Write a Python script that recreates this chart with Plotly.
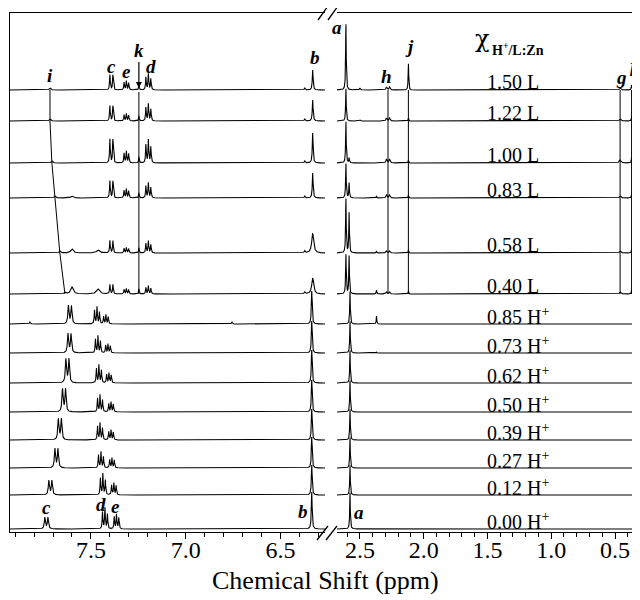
import numpy as np
import plotly.graph_objects as go

# ---------------- data ----------------
labels = ["1.50 L", "1.22 L", "1.00 L", "0.83 L", "0.58 L", "0.40 L",
          "0.85 H<sup>+</sup>", "0.73 H<sup>+</sup>", "0.62 H<sup>+</sup>", "0.50 H<sup>+</sup>",
          "0.39 H<sup>+</sup>", "0.27 H<sup>+</sup>", "0.12 H<sup>+</sup>", "0.00 H<sup>+</sup>"]
# vertical stacking offset of every trace (arbitrary intensity units)
stack_offset = [442, 411, 369, 334, 279, 238, 208, 179, 149, 120, 92, 64, 37, 3]

# aromatic signals (left panel)
c_ppm = [7.392] * 6 + [7.611, 7.613, 7.624, 7.642, 7.664, 7.682, 7.714, 7.735]
c_height = [16, 16, 25, 18, 13, 10, 19, 20, 25, 24, 22, 20, 15, 12]
c_hwhm = [0.0022] * 6 + [0.0035] * 8
d_ppm = [7.197] * 6 + [7.468, 7.463, 7.458, 7.452, 7.452, 7.447, 7.437, 7.426]
d_height = [16, 17, 23, 15, 12, 8, 17, 17, 18, 17, 17, 16, 21, 21]
e_ppm = [7.313] * 6 + [7.421, 7.410, 7.405, 7.394, 7.394, 7.389, 7.379, 7.365]
e_height = [10, 8, 13, 10, 6, 6, 10, 10, 11, 11, 11, 11, 13, 16]
k_ppm = 7.247
k_height = [5, 5, 6, 5, 5, 5, 0, 0, 0, 0, 0, 0, 0, 0]
b_ppm = [6.330] * 6 + [6.335] * 8
b_height = [20, 21, 30, 25, 20, 16, 33, 32, 33, 32, 31, 31, 30, 37]
b_hwhm = [0.0025, 0.0025, 0.0025, 0.0025, 0.006, 0.006] + [0.0025] * 8
b2_ppm = 6.372
b2_height = [2, 2, 2, 2, 2, 2, 0, 0, 0, 0, 0, 0, 0, 0]
i_ppm = [7.716, 7.716, 7.706, 7.690, 7.664, 7.637]
i_height = [2, 2, 2, 2, 2, 2]
bump1_ppm = 7.600
bump1_height = [0, 0, 0, 2, 4, 7, 0, 0, 0, 0, 0, 0, 0, 0]
bump2_ppm = 7.463
bump2_height = [0, 0, 0, 0, 3, 5, 0, 0, 0, 0, 0, 0, 0, 0]
minor_left_ppm = [7.822, 6.756]
minor_left_height = [2, 2]          # only in the 0.85 H+ trace

# aliphatic signals (right panel)
a_ppm = [2.610] * 6 + [2.578] * 8
a_height = [67, 33, 42, 35, 55, 40, 33, 32, 33, 32, 31, 31, 30, 37]
a2_ppm = 2.585
a2_height = [0, 0, 5, 15, 40, 38, 0, 0, 0, 0, 0, 0, 0, 0]
s237_ppm = 2.37
s237_height = [0, 0, 0, 2, 2, 4, 8, 1, 0, 0, 0, 0, 0, 0]
s250_ppm = 2.50
s250_height = [2, 1, 0, 0, 0, 0, 0, 0, 0, 0, 0, 0, 0, 0]
h_ppm, j_ppm, g_ppm, f_ppm = 2.28, 2.12, 0.46, 0.37
h_height = [3, 3, 4, 3, 2, 2]
j_height = [27, 3, 3, 3, 3, 3]
g_height = [2, 2, 3, 2, 2, 2]
f_height = [5, 4, 5, 4, 4, 4]

# ---------------- helpers ----------------
def lor(x, p, h, w):
    return h * w ** 2 / ((x - p) ** 2 + w ** 2)

x_left = np.linspace(7.927, 6.265, 3400)
x_right = np.linspace(2.68, 0.304, 2600)

C_J = 0.016
D_PAT = [(0.013, 0.8), (0.0, 1.0), (-0.013, 0.7)]
E_PAT = [(0.012, 0.75), (0.0, 0.9), (-0.012, 0.7)]

fig = go.Figure()
LINE = dict(color="black", width=1.1)

for k in range(len(labels)):
    yl = np.full(x_left.shape, float(stack_offset[k]))
    for s in (C_J / 2, -C_J / 2):
        yl += lor(x_left, c_ppm[k] + s, c_height[k] * 0.95, c_hwhm[k])
    for s, r in D_PAT:
        yl += lor(x_left, d_ppm[k] + s, d_height[k] * r, 0.0022)
    for s, r in E_PAT:
        yl += lor(x_left, e_ppm[k] + s, e_height[k] * r, 0.0022)
    yl += lor(x_left, k_ppm, k_height[k], 0.002)
    yl += lor(x_left, b_ppm[k], b_height[k], b_hwhm[k])
    yl += lor(x_left, b2_ppm, b2_height[k], 0.003)
    if k < len(i_ppm):
        yl += lor(x_left, i_ppm[k], i_height[k], 0.005)
    yl += lor(x_left, bump1_ppm, bump1_height[k], 0.008)
    yl += lor(x_left, bump2_ppm, bump2_height[k], 0.010)
    if k == 6:
        for p, h in zip(minor_left_ppm, minor_left_height):
            yl += lor(x_left, p, h, 0.003)
    fig.add_trace(go.Scatter(x=x_left, y=yl, mode="lines", line=LINE,
                             xaxis="x", yaxis="y", hoverinfo="skip"))

    yr = np.full(x_right.shape, float(stack_offset[k]))
    yr += lor(x_right, a_ppm[k], a_height[k], 0.0028)
    yr += lor(x_right, a2_ppm, a2_height[k], 0.0028)
    yr += lor(x_right, s237_ppm, s237_height[k], 0.0025)
    yr += lor(x_right, s250_ppm, s250_height[k], 0.004)
    if k < len(h_height):
        for s in (0.012, -0.012):
            yr += lor(x_right, h_ppm + s, h_height[k], 0.005)
        yr += lor(x_right, j_ppm, j_height[k], 0.0025)
        yr += lor(x_right, g_ppm, g_height[k], 0.008)
        yr += lor(x_right, f_ppm, f_height[k], 0.003)
    fig.add_trace(go.Scatter(x=x_right, y=yr, mode="lines", line=LINE,
                             xaxis="x2", yaxis="y", hoverinfo="skip"))

# guide lines through the L series
GUIDE = dict(color="black", width=1)
n_l = len(i_ppm)
fig.add_trace(go.Scatter(x=i_ppm, y=stack_offset[:n_l], mode="lines", line=GUIDE,
                         xaxis="x", yaxis="y", hoverinfo="skip"))
fig.add_trace(go.Scatter(x=[k_ppm, k_ppm], y=[stack_offset[0] - 2, stack_offset[n_l - 1]],
                         mode="lines", line=GUIDE, xaxis="x", yaxis="y", hoverinfo="skip"))
for p in (h_ppm, j_ppm, g_ppm, f_ppm):
    fig.add_trace(go.Scatter(x=[p, p], y=[stack_offset[0], stack_offset[n_l - 1]],
                             mode="lines", line=GUIDE, xaxis="x2", yaxis="y", hoverinfo="skip"))

# ---------------- annotations ----------------
SERIF = "Liberation Serif, Times New Roman, serif"
ann = []

def peak_label(txt, x, y, xref):
    ann.append(dict(text="<b><i>" + txt + "</i></b>", x=x, y=y, xref=xref, yref="y",
                    showarrow=False, font=dict(family=SERIF, size=19, color="black")))

peak_label("i", 7.716, 457, "x")
peak_label("c", 7.389, 466, "x")
peak_label("e", 7.313, 461, "x")
peak_label("d", 7.183, 466, "x")
peak_label("b", 6.318, 475, "x")
peak_label("a", 2.676, 505, "x2")
peak_label("h", 2.288, 456, "x2")
peak_label("j", 2.108, 486, "x2")
peak_label("g", 0.453, 455, "x2")
peak_label("f", 0.351, 467, "x2")
peak_label("c", 7.737, 25, "x")
peak_label("d", 7.447, 28, "x")
peak_label("e", 7.368, 26, "x")
peak_label("b", 6.381, 21, "x")
peak_label("a", 2.508, 20, "x2")
# k with arrow
ann.append(dict(text="<b><i>k</i></b>", x=k_ppm, y=stack_offset[0] + 2, xref="x", yref="y",
                showarrow=True, ax=0, ay=-38, arrowhead=2, arrowsize=1, arrowwidth=1.2,
                arrowcolor="black", font=dict(family=SERIF, size=19, color="black")))

for k, lab in enumerate(labels):
    ann.append(dict(text=lab, x=1.52, y=stack_offset[k] + 8, xref="x2", yref="y",
                    xanchor="left", yanchor="middle", showarrow=False,
                    font=dict(family=SERIF, size=20, color="black")))

ann.append(dict(text="χ", x=1.614, y=493, xref="x2", yref="y", xanchor="left",
                yanchor="middle", showarrow=False,
                font=dict(family="DejaVu Serif, serif", size=24, color="black")))
ann.append(dict(text="<b>H<sup>+</sup>/L:Zn</b>", x=1.48, y=483, xref="x2", yref="y",
                xanchor="left", yanchor="middle", showarrow=False,
                font=dict(family=SERIF, size=14, color="black")))

ann.append(dict(text="Chemical Shift (ppm)", x=(325 - 10) / 630, y=1 - (580 - 13) / 519,
                xref="paper", yref="paper", xanchor="center", yanchor="middle",
                showarrow=False, font=dict(family=SERIF, size=26, color="black")))

# break marks
def px(x, y):
    return (x - 10) / 630, 1 - (y - 13) / 519

shapes = []
for (x0, y0, x1, y1) in [(317, 540, 328, 526), (326, 540, 337, 526),
                         (318, 20, 328, 6), (328, 20, 338, 6)]:
    a0, b0 = px(x0, y0)
    a1, b1 = px(x1, y1)
    shapes.append(dict(type="line", xref="paper", yref="paper", x0=a0, y0=b0, x1=a1, y1=b1,
                       line=dict(color="black", width=1.3)))

axis_common = dict(
    tickmode="linear", tick0=0, dtick=0.5, tickformat=".1f",
    ticks="outside", ticklen=6, tickwidth=1.2, tickcolor="black",
    minor=dict(dtick=0.1, ticks="outside", ticklen=4, tickwidth=1, tickcolor="black"),
    showline=True, mirror=True, linecolor="black", linewidth=1.3,
    showgrid=False, zeroline=False, ticklabelstandoff=-10,
    tickfont=dict(family=SERIF, size=24, color="black"),
)

# the page body adds an 8 px offset, so the figure is 8 px smaller than the window
fig.update_layout(
    width=632, height=592,
    margin=dict(l=2, r=0, t=5, b=68),
    paper_bgcolor="white", plot_bgcolor="white",
    showlegend=False,
    xaxis=dict(domain=[0, 0.5], range=[7.927, 6.265], anchor="y", **axis_common),
    xaxis2=dict(domain=[0.519, 1], range=[2.68, 0.304], anchor="y", **axis_common),
    yaxis=dict(domain=[0, 1], range=[0, 519], showline=True, linecolor="black", linewidth=1.3,
               showticklabels=False, ticks="", showgrid=False, zeroline=False, anchor="x"),
    annotations=ann,
    shapes=shapes,
)

fig.write_html("out.html")
